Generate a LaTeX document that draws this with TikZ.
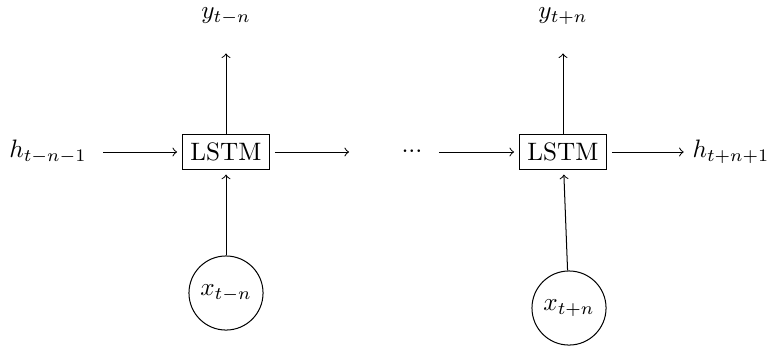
\documentclass[tikz,border=0pt]{standalone}
\begin{document}
\begin{tikzpicture}[x=0.3968pt,y=-0.3968pt,
  box/.style={draw,rectangle,inner sep=3.33pt,outer sep=2pt},
  circ/.style={draw,circle,minimum size=29.4pt,inner sep=1pt},
  conn/.style={->}]
\useasboundingbox (0,0) rectangle (775,349);
\node[box] (l1) at (226,152) {LSTM};
\node[box] (l2) at (563,152) {LSTM};
\node (h0) at (48,152) {$h_{t-n-1}$};
\node (dots) at (412,152) {${\cdot}{\cdot}{\cdot}$};
\node (h1) at (731,152) {$h_{t+n+1}$};
\node (y1) at (226,16) {$y_{t-n}$};
\node (y2) at (563,16) {$y_{t+n}$};
\node[circ] (x1) at (226,293) {$x_{t-n}$};
\node[circ] (x2) at (569,308) {$x_{t+n}$};
\coordinate (m1) at (349,152);
\draw[conn,shorten <=3pt] (h0) -- (l1);
\draw[conn] (l1) -- (m1);
\draw[conn,shorten <=3pt] (dots) -- (l2);
\draw[conn] (l2) -- (h1);
\draw[conn,shorten <=-2pt,shorten >=8pt] (l1) -- (y1);
\draw[conn,shorten <=-2pt,shorten >=8pt] (l2) -- (y2);
\draw[conn] (x1) -- (l1);
\draw[conn] (x2) -- (l2);
\end{tikzpicture}
\end{document}
